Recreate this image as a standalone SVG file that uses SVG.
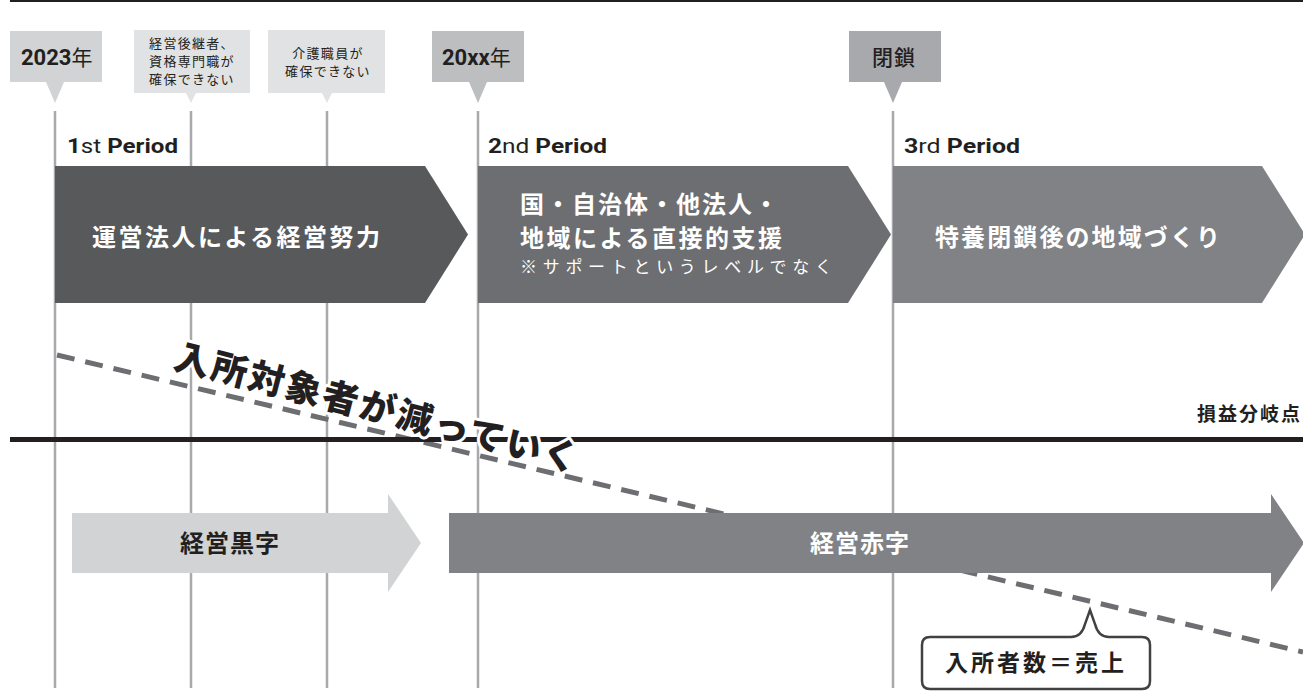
<svg xmlns="http://www.w3.org/2000/svg" width="1303" height="700" viewBox="0 0 1303 700">
<style>
.jp{font-family:"Noto Sans CJK JP","Noto Sans",sans-serif}
.lat{font-family:Roboto,"Liberation Sans",sans-serif}
.vl{stroke:#a7a9ac;stroke-width:2.5;fill:none}
.ptxt{font-size:21px;fill:#231f20}
.b{font-weight:700}
.w{fill:#ffffff;font-weight:700}
.lbl{font-size:13px;fill:#231f20}
</style>
<rect width="1303" height="700" fill="#ffffff"/>
<rect x="10" y="0" width="1293" height="2" fill="#231f20"/>

<g id="connectors">
  <line class="vl" x1="55" y1="111" x2="55" y2="688"/>
  <line class="vl" x1="191" y1="111" x2="191" y2="688"/>
  <line class="vl" x1="327" y1="111" x2="327" y2="688"/>
  <line class="vl" x1="478" y1="111" x2="478" y2="688"/>
  <line class="vl" x1="893" y1="111" x2="893" y2="688"/>
  <line id="decline" x1="57" y1="355" x2="1303" y2="652" stroke="#6d6e71" stroke-width="5" stroke-dasharray="18 11"/>
</g>

<g id="label-2023">
  <rect x="10" y="31" width="92" height="51" fill="#d1d3d4"/>
  <polygon points="46,82 64,82 55,103" fill="#d1d3d4"/>
  <text x="21" y="65" class="lat" font-size="22" fill="#231f20"><tspan font-weight="700">2023</tspan><tspan class="jp" font-size="21">年</tspan></text>
</g>
<g id="label-successor">
  <rect x="134" y="30" width="116" height="63" fill="#e1e2e3"/>
  <polygon points="186,93 196,93 191,103" fill="#e1e2e3"/>
  <text class="jp lbl" text-anchor="middle" letter-spacing="1.3"><tspan x="192" y="48">経営後継者、</tspan><tspan x="192" y="66">資格専門職が</tspan><tspan x="192" y="84">確保できない</tspan></text>
</g>
<g id="label-care">
  <rect x="268" y="30" width="117" height="63" fill="#e1e2e3"/>
  <polygon points="322,93 332,93 327,103" fill="#e1e2e3"/>
  <text class="jp lbl" text-anchor="middle" letter-spacing="1.3"><tspan x="328" y="58">介護職員が</tspan><tspan x="328" y="76">確保できない</tspan></text>
</g>
<g id="label-20xx">
  <rect x="432" y="31" width="92" height="51" fill="#bcbec0"/>
  <polygon points="469,82 487,82 478,103" fill="#bcbec0"/>
  <text x="442" y="65" class="lat" font-size="22" fill="#231f20"><tspan font-weight="700">20xx</tspan><tspan class="jp" font-size="21">年</tspan></text>
</g>
<g id="label-close">
  <rect x="849" y="31" width="92" height="51" fill="#a7a9ac"/>
  <polygon points="884,82 902,82 893,103" fill="#a7a9ac"/>
  <text x="872" y="65" class="jp" font-size="21" font-weight="500" fill="#231f20" letter-spacing="1">閉鎖</text>
</g>

<g id="period1">
  <text x="67" y="153" class="lat ptxt" textLength="111" lengthAdjust="spacingAndGlyphs"><tspan class="b">1</tspan>st <tspan class="b">Period</tspan></text>
  <polygon points="55,166 425,166 468,234.5 425,303 55,303" fill="#58595b"/>
  <text x="92" y="246" class="jp w" font-size="24" textLength="288">運営法人による経営努力</text>
</g>
<g id="period2">
  <text x="488" y="153" class="lat ptxt" textLength="119" lengthAdjust="spacingAndGlyphs"><tspan class="b">2</tspan>nd <tspan class="b">Period</tspan></text>
  <polygon points="478,166 848,166 891,234.5 848,303 478,303" fill="#6d6e71"/>
  <text x="520" y="213" class="jp w" font-size="24" textLength="258">国・自治体・他法人・</text>
  <text x="520" y="247" class="jp w" font-size="24" textLength="262">地域による直接的支援</text>
  <text x="520" y="273" class="jp" font-size="17" fill="#ffffff" textLength="312">※サポートというレベルでなく</text>
</g>
<g id="period3">
  <text x="904" y="153" class="lat ptxt" textLength="116" lengthAdjust="spacingAndGlyphs"><tspan class="b">3</tspan>rd <tspan class="b">Period</tspan></text>
  <polygon points="893,166 1262,166 1305,234.5 1262,303 893,303" fill="#808285"/>
  <text x="935" y="246" class="jp w" font-size="24" textLength="285">特養閉鎖後の地域づくり</text>
</g>

<g id="breakeven">
  <rect x="10" y="437" width="1293" height="5" fill="#231f20"/>
  <text x="1302" y="421" text-anchor="end" class="jp" font-size="19" font-weight="700" fill="#231f20" letter-spacing="2">損益分岐点</text>
</g>

<g id="profit">
  <polygon points="72,513 388,513 388,494 421,543 388,592 388,573 72,573" fill="#d1d3d4"/>
  <text x="230" y="552" text-anchor="middle" class="jp" font-size="24" font-weight="700" fill="#231f20" letter-spacing="1">経営黒字</text>
</g>
<g id="deficit">
  <polygon points="449,513 1271,513 1271,494 1304,543 1271,592 1271,573 449,573" fill="#808285"/>
  <text x="860" y="552" text-anchor="middle" class="jp w" font-size="24" letter-spacing="1">経営赤字</text>
</g>

<g id="decline-label">
  <text transform="translate(172,368) rotate(14.5)" class="jp" font-size="36" font-weight="900" fill="#231f20" stroke="#ffffff" stroke-width="6" paint-order="stroke" stroke-linejoin="round" letter-spacing="2.2">入所対象者が減っていく</text>
</g>

<g id="callout">
  <path d="M930,637 H1071 C1079,637 1083,632 1085,624 L1090,610 L1095,624 C1097,632 1101,637 1109,637 H1142 Q1150,637 1150,645 V681 Q1150,689 1142,689 H930 Q922,689 922,681 V645 Q922,637 930,637 Z" fill="#ffffff" stroke="#414042" stroke-width="2.5"/>
  <text x="1036" y="671" text-anchor="middle" class="jp" font-size="23" font-weight="700" fill="#231f20" letter-spacing="3">入所者数＝売上</text>
</g>
</svg>
